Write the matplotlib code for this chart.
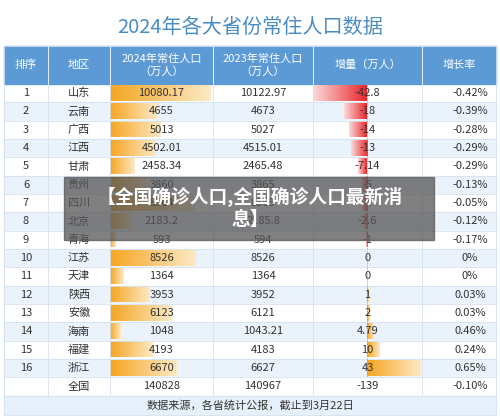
import matplotlib
matplotlib.use("Agg")
import matplotlib.pyplot as plt
import numpy as np
from matplotlib.colors import LinearSegmentedColormap

plt.rcParams['font.family'] = ['Noto Sans CJK SC', 'DejaVu Sans']

title = "2024年各大省份常住人口数据"
headers = ["排序", "地区", "2024年常住人口\n（万人）", "2023年常住人口\n（万人）", "增量（万人）", "增长率"]
ranks = [str(i) for i in range(1, 17)] + [""]
regions = ["山东", "云南", "广西", "江西", "甘肃", "贵州", "四川", "北京", "青海", "江苏", "天津", "陕西", "安徽", "海南", "福建", "浙江", "全国"]
pop2024 = [10080.17, 4655, 5013, 4502.01, 2458.34, 3860, 8364, 2183.2, 593, 8526, 1364, 3953, 6123, 1048, 4193, 6670, 140828]
pop2024_txt = ["10080.17", "4655", "5013", "4502.01", "2458.34", "3860", "8364", "2183.2", "593", "8526", "1364", "3953", "6123", "1048", "4193", "6670", "140828"]
pop2023_txt = ["10122.97", "4673", "5027", "4515.01", "2465.48", "3865", "8368", "2185.8", "594", "8526", "1364", "3952", "6121", "1043.21", "4183", "6627", "140967"]
delta = [-42.8, -18, -14, -13, -7.14, -5, -4, -2.6, -1, 0, 0, 1, 2, 4.79, 10, 43, -139]
delta_txt = ["-42.8", "-18", "-14", "-13", "-7.14", "-5", "-4", "-2.6", "-1", "0", "0", "1", "2", "4.79", "10", "43", "-139"]
rate_txt = ["-0.42%", "-0.39%", "-0.28%", "-0.29%", "-0.29%", "-0.13%", "-0.05%", "-0.12%", "-0.17%", "0%", "0%", "0.03%", "0.03%", "0.46%", "0.24%", "0.65%", "-0.10%"]
footer = "数据来源，各省统计公报，截止到3月22日"
overlay = "【全国确诊人口,全国确诊人口最新消\n息】"

W, H = 500, 418
fig = plt.figure(figsize=(W/100, H/100), dpi=100)
ax = fig.add_axes([0, 0, 1, 1])
ax.set_xlim(0, W); ax.set_ylim(H, 0); ax.axis('off')

cols = [4, 48, 110, 213, 313, 422, 496]
hdr_top, hdr_bot = 46, 84
rh = 18.33
n = len(regions)
body_bot = hdr_bot + rh*n
foot_bot = body_bot + 19

ax.text(250, 27, title, ha='center', va='center', fontsize=14.5, color='#4a8cc4')
ax.add_patch(plt.Rectangle((cols[0], hdr_top), cols[-1]-cols[0], hdr_bot-hdr_top, color='#5c9ad6', zorder=1))
for i, h in enumerate(headers):
    ax.text((cols[i]+cols[i+1])/2, (hdr_top+hdr_bot)/2, h, ha='center', va='center', color='white', fontsize=8, linespacing=1.3, zorder=3)
for c in cols[1:-1]:
    ax.plot([c, c], [hdr_top, hdr_bot], color='white', lw=0.6, zorder=2)

for r in range(n):
    y0 = hdr_bot + r*rh
    fc = '#eaf2fb' if r % 2 == 1 else 'white'
    ax.add_patch(plt.Rectangle((cols[0], y0), cols[-1]-cols[0], rh, color=fc, zorder=0))
    ax.plot([cols[0], cols[-1]], [y0+rh, y0+rh], color='#d5e2f0', lw=0.6, zorder=2)
for c in cols:
    ax.plot([c, c], [hdr_bot, body_bot], color='#d5e2f0', lw=0.6, zorder=2)
ax.add_patch(plt.Rectangle((cols[0], body_bot), cols[-1]-cols[0], foot_bot-body_bot, color='#e6f0fa', zorder=0))
ax.plot([cols[0], cols[-1]], [foot_bot, foot_bot], color='#d5e2f0', lw=0.6)
ax.plot([cols[0], cols[0], cols[-1], cols[-1]], [foot_bot, hdr_top, hdr_top, foot_bot], color='#d5e2f0', lw=0.6)

grad = np.linspace(0, 1, 64).reshape(1, -1)
orange = LinearSegmentedColormap.from_list('o', ['#f5a623', '#fde9c4'])
red = LinearSegmentedColormap.from_list('r', ['#fbdada', '#e8282c'])

bar_max = max(pop2024[:16])
dmax = max(abs(d) for d in delta[:16])
zero_x = 367
for r in range(16):
    y0 = hdr_bot + r*rh + 1.5
    y1 = y0 + rh - 3
    w = pop2024[r] / bar_max * 101
    ax.imshow(grad, cmap=orange, extent=(cols[2], cols[2]+w, y1, y0), aspect='auto', zorder=1)
    d = delta[r]
    dw = abs(d) / dmax * 54
    if d < 0:
        ax.imshow(grad, cmap=red, extent=(zero_x-dw, zero_x, y1, y0), aspect='auto', zorder=1)
    elif d > 0:
        ax.imshow(grad, cmap=orange, extent=(zero_x, zero_x+dw, y1, y0), aspect='auto', zorder=1)
ax.plot([zero_x, zero_x], [hdr_bot, body_bot-rh], color='#999999', lw=0.6, ls=(0, (1, 1)), zorder=2)

for r in range(n):
    yc = hdr_bot + r*rh + rh/2
    vals = [ranks[r], regions[r], pop2024_txt[r], pop2023_txt[r], delta_txt[r], rate_txt[r]]
    for i, v in enumerate(vals):
        x = (cols[i]+cols[i+1])/2
        if i == 5:
            x = 470
        ax.text(x, yc, v, ha='center', va='center', fontsize=8, color='#333333', zorder=3)
ax.text(250, (body_bot+foot_bot)/2, footer, ha='center', va='center', fontsize=8, color='#333333')
ax.set_xlim(0, W); ax.set_ylim(H, 0)

ax.add_patch(plt.Rectangle((64, 177), 370, 63, color='#555555', alpha=0.75, zorder=5))
ax.text(250, 208, overlay, ha='center', va='center', fontsize=13.5, color='white', fontweight='bold', linespacing=1.2, zorder=6)

fig.savefig("out.png", dpi=100)
